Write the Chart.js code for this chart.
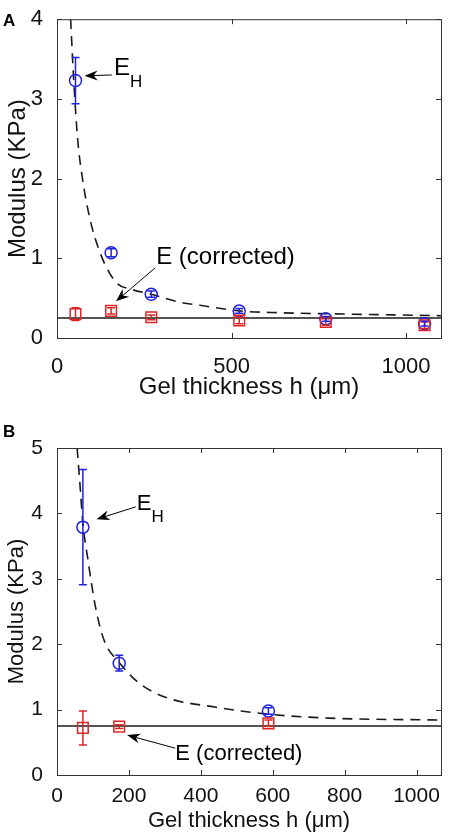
<!DOCTYPE html>
<html>
<head>
<meta charset="utf-8">
<script src="https://cdn.jsdelivr.net/npm/chart.js@4.4.1/dist/chart.umd.min.js"></script>
<style>
  html, body { margin: 0; padding: 0; background: #fff; }
  .panel { position: absolute; left: 0; width: 450px; height: 417px; }
  #panelA { top: 0; }
  #panelB { top: 417px; }
</style>
</head>
<body>
<div class="panel" id="panelA"><canvas id="chartA" width="450" height="417"></canvas></div>
<div class="panel" id="panelB"><canvas id="chartB" width="450" height="417"></canvas></div>
<script>
// panel A
const hA = [53, 155, 270, 522, 770, 1053];
const ehA = [3.23, 1.07, 0.55, 0.34, 0.24, 0.18];
const ehErrA = [0.29, 0.05, 0.04, 0.03, 0.03, 0.03];
const ecA = [0.30, 0.34, 0.26, 0.22, 0.20, 0.16];
const ecErrA = [0.08, 0.04, 0.03, 0.04, 0.04, 0.04];
const levelA = 0.25;
const fitHA = [39, 48, 59, 73, 93, 126, 169, 214, 270, 350, 410, 522, 615, 830, 1100];
const fitEA = [4.0, 3.23, 2.5, 2.0, 1.52, 1.04, 0.70, 0.61, 0.55, 0.45, 0.41, 0.34, 0.32, 0.30, 0.28];
const xTicksA = [0, 500, 1000];
const yTicksA = [0, 1, 2, 3, 4];

// panel B
const hB = [72, 173, 588];
const ehB = [3.79, 1.71, 0.98];
const ehErrB = [0.88, 0.12, 0.05];
const ecB = [0.72, 0.74, 0.79];
const ecErrB = [0.26, 0.03, 0.05];
const levelB = 0.75;
const fitHB = [56, 65, 72, 85, 107, 131, 173, 227, 301, 438, 588, 756, 1068];
const fitEB = [5.0, 4.36, 3.85, 3.33, 2.57, 2.06, 1.72, 1.41, 1.19, 1.04, 0.93, 0.87, 0.84];
const xTicksB = [0, 200, 400, 600, 800, 1000];
const yTicksB = [0, 1, 2, 3, 4, 5];

const FONT = "'Liberation Sans', Arial, sans-serif";
const BLUE = "#2020e0";
const RED = "#dd2424";
const INK = "#1a1a1a";

function pts(xs, ys) {
  return xs.map((x, i) => ({ x: x, y: ys[i] }));
}

// error bars, drawn through the markers
const errorBars = {
  id: "errorBars",
  afterDatasetsDraw(chart) {
    const ctx = chart.ctx;
    const xs = chart.scales.x, ys = chart.scales.y;
    chart.data.datasets.forEach(ds => {
      if (!ds.errors) return;
      ctx.save();
      ctx.strokeStyle = ds.borderColor;
      ctx.lineWidth = 1.5;
      ds.data.forEach((p, i) => {
        const px = xs.getPixelForValue(p.x);
        const top = ys.getPixelForValue(p.y + ds.errors[i]);
        const bot = ys.getPixelForValue(p.y - ds.errors[i]);
        ctx.beginPath();
        ctx.moveTo(px, top); ctx.lineTo(px, bot);
        ctx.moveTo(px - 4, top); ctx.lineTo(px + 4, top);
        ctx.moveTo(px - 4, bot); ctx.lineTo(px + 4, bot);
        ctx.stroke();
      });
      ctx.restore();
    });
  }
};

// matlab style box with inward ticks, panel letter and arrow notes
const frame = {
  id: "frame",
  afterDraw(chart, args, opts) {
    const ctx = chart.ctx;
    const a = chart.chartArea;
    const xs = chart.scales.x, ys = chart.scales.y;
    ctx.save();
    ctx.strokeStyle = "#333";
    ctx.lineWidth = 1;
    ctx.strokeRect(a.left + 0.5, a.top + 0.5, a.right - a.left, a.bottom - a.top);
    ctx.beginPath();
    opts.xTicks.forEach(v => {
      const px = Math.round(xs.getPixelForValue(v)) + 0.5;
      ctx.moveTo(px, a.bottom); ctx.lineTo(px, a.bottom - 5);
      ctx.moveTo(px, a.top); ctx.lineTo(px, a.top + 5);
    });
    opts.yTicks.forEach(v => {
      const py = Math.round(ys.getPixelForValue(v)) + 0.5;
      ctx.moveTo(a.left, py); ctx.lineTo(a.left + 5, py);
      ctx.moveTo(a.right, py); ctx.lineTo(a.right - 5, py);
    });
    ctx.stroke();

    ctx.fillStyle = "#000";
    ctx.font = "bold 17px " + FONT;
    ctx.textBaseline = "alphabetic";
    ctx.fillText(opts.letter, 3, opts.letterY);

    opts.notes.forEach(n => {
      const tx = xs.getPixelForValue(n.at[0]), ty = ys.getPixelForValue(n.at[1]);
      ctx.font = opts.noteSize + "px " + FONT;
      ctx.fillText(n.text, tx, ty);
      if (n.sub) {
        const w = ctx.measureText(n.text).width;
        ctx.font = "17px " + FONT;
        ctx.fillText(n.sub, tx + w, ty + 12);
      }
      const x0 = xs.getPixelForValue(n.from[0]), y0 = ys.getPixelForValue(n.from[1]);
      const x1 = xs.getPixelForValue(n.to[0]), y1 = ys.getPixelForValue(n.to[1]);
      const ang = Math.atan2(y1 - y0, x1 - x0);
      ctx.strokeStyle = "#000";
      ctx.lineWidth = 1;
      ctx.beginPath();
      ctx.moveTo(x0, y0); ctx.lineTo(x1 - 8 * Math.cos(ang), y1 - 8 * Math.sin(ang));
      ctx.stroke();
      ctx.beginPath();
      ctx.moveTo(x1, y1);
      ctx.lineTo(x1 - 13 * Math.cos(ang) + 5 * Math.sin(ang), y1 - 13 * Math.sin(ang) - 5 * Math.cos(ang));
      ctx.lineTo(x1 - 9 * Math.cos(ang), y1 - 9 * Math.sin(ang));
      ctx.lineTo(x1 - 13 * Math.cos(ang) - 5 * Math.sin(ang), y1 - 13 * Math.sin(ang) + 5 * Math.cos(ang));
      ctx.closePath();
      ctx.fill();
    });
    ctx.restore();
  }
};

function makeChart(id, cfg) {
  const ctx = document.getElementById(id).getContext("2d");
  return new Chart(ctx, {
    type: "scatter",
    data: {
      datasets: [
        {
          label: "E (corrected)",
          data: pts(cfg.h, cfg.ec),
          errors: cfg.ecErr,
          borderColor: RED,
          backgroundColor: "rgba(0,0,0,0)",
          pointStyle: "rect",
          pointRadius: 7.5,
          borderWidth: 1.5
        },
        {
          label: "E_H",
          data: pts(cfg.h, cfg.eh),
          errors: cfg.ehErr,
          borderColor: BLUE,
          backgroundColor: "rgba(0,0,0,0)",
          pointStyle: "circle",
          pointRadius: 6,
          borderWidth: 1.5
        },
        {
          label: "fit",
          data: pts(cfg.fitH, cfg.fitE),
          showLine: true,
          borderColor: INK,
          borderWidth: 1.6,
          borderDash: [10, 7],
          pointRadius: 0,
          cubicInterpolationMode: "monotone"
        },
        {
          label: "level",
          data: pts([0, cfg.xMax], [cfg.level, cfg.level]),
          showLine: true,
          borderColor: INK,
          borderWidth: 1.5,
          pointRadius: 0
        }
      ]
    },
    options: {
      responsive: false,
      animation: false,
      events: [],
      layout: { padding: { top: cfg.top, right: 3, left: 0, bottom: 0 } },
      plugins: {
        legend: { display: false },
        tooltip: { enabled: false },
        frame: { xTicks: cfg.xTicks, yTicks: cfg.yTicks, letter: cfg.letter, letterY: cfg.letterY, notes: cfg.notes, noteSize: cfg.titleSize }
      },
      scales: {
        x: {
          type: "linear",
          min: 0,
          max: cfg.xMax,
          afterBuildTicks: s => { s.ticks = cfg.xTicks.map(v => ({ value: v })); },
          afterFit: s => { s.height = cfg.xHeight; },
          grid: { display: false },
          border: { display: false },
          ticks: { color: "#111", font: { family: FONT, size: cfg.tickSize }, padding: cfg.tickPad, maxRotation: 0, callback: v => String(v) },
          title: { display: true, text: "Gel thickness h (\u03bcm)", color: "#111", font: { family: FONT, size: cfg.titleSize }, padding: { top: 0, bottom: cfg.titlePad } }
        },
        y: {
          type: "linear",
          min: 0,
          max: cfg.yMax,
          afterBuildTicks: s => { s.ticks = cfg.yTicks.map(v => ({ value: v })); },
          afterFit: s => { s.width = 57; },
          grid: { display: false },
          border: { display: false },
          ticks: { color: "#111", font: { family: FONT, size: cfg.tickSize }, padding: 6, callback: v => String(v) },
          title: { display: true, text: "Modulus (KPa)", color: "#111", font: { family: FONT, size: cfg.titleSize }, padding: { top: 4, bottom: 0 } }
        }
      }
    },
    plugins: [errorBars, frame]
  });
}

makeChart("chartA", {
  h: hA, eh: ehA, ehErr: ehErrA, ec: ecA, ecErr: ecErrA,
  fitH: fitHA, fitE: fitEA, level: levelA,
  xMax: 1100, yMax: 4, xTicks: xTicksA, yTicks: yTicksA,
  top: 10, xHeight: 79, tickSize: 22, tickPad: 8, titleSize: 24, titlePad: 15, letter: "A", letterY: 26,
  notes: [
    { text: "E", sub: "H", at: [163, 3.30], from: [157, 3.30], to: [79, 3.29] },
    { text: "E (corrected)", at: [284, 0.93], from: [281, 0.88], to: [169, 0.46] }
  ]
});

makeChart("chartB", {
  h: hB, eh: ehB, ehErr: ehErrB, ec: ecB, ecErr: ecErrB,
  fitH: fitHB, fitE: fitEB, level: levelB,
  xMax: 1068, yMax: 5, xTicks: xTicksB, yTicks: yTicksB,
  top: 31, xHeight: 59, tickSize: 21, tickPad: 1, titleSize: 22, titlePad: 0, letter: "B", letterY: 20,
  notes: [
    { text: "E", sub: "H", at: [222, 4.05], from: [219, 4.10], to: [110, 3.91] },
    { text: "E (corrected)", at: [329, 0.23], from: [329, 0.41], to: [195, 0.61] }
  ]
});
</script>
</body>
</html>
